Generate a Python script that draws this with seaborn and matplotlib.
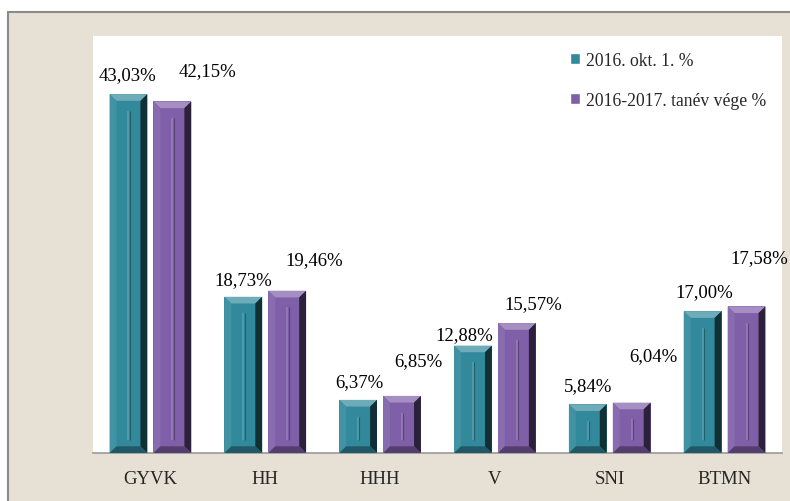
import numpy as np
import pandas as pd
import matplotlib
matplotlib.use("Agg")
import matplotlib.pyplot as plt
from matplotlib.patches import Rectangle, Polygon
import matplotlib.colors as mcolors
import seaborn as sns

# === Daten ===
kategoriak = ["GYVK", "HH", "HHH", "V", "SNI", "BTMN"]
sorozatok = ["2016. okt. 1. %", "2016-2017. tanév vége %"]
okt_2016 = [43.03, 18.73, 6.37, 12.88, 5.84, 17.00]
tanev_vege = [42.15, 19.46, 6.85, 15.57, 6.04, 17.58]

# label placement (x offset from category, y offset from bar top)
cimke_dx = [[-0.196, -0.19, -0.18, -0.265, -0.19, -0.18],
            [0.50, 0.43, 0.33, 0.335, 0.38, 0.30]]
cimke_dy = [[2.3, 2.1, 2.15, 1.27, 2.2, 2.4],
            [3.65, 3.7, 4.2, 2.3, 5.6, 5.8]]

szinek = ["#31899b", "#7f5fa8"]
beige = "#e7e0d5"

df = pd.DataFrame({
    "kat": kategoriak * 2,
    "sorozat": [sorozatok[0]] * 6 + [sorozatok[1]] * 6,
    "ertek": okt_2016 + tanev_vege,
})

sns.set_style("white")
plt.rcParams["font.family"] = ["Liberation Serif", "DejaVu Serif"]

W, H = 790, 502
fig = plt.figure(figsize=(W / 100, H / 100), dpi=100, facecolor="white")
hatter = Rectangle((8 / W, -0.01), 1, (H - 13) / H + 0.01, transform=fig.transFigure,
                   facecolor=beige, edgecolor="#8a8a8a", linewidth=1.5, zorder=-10)
fig.add_artist(hatter)

ax = fig.add_axes([93 / W, (H - 454) / H, (782 - 93) / W, (454 - 37) / H])
ax.set_zorder(1)
ax.set_facecolor("white")

sns.barplot(data=df, x="kat", y="ertek", hue="sorozat", palette=szinek,
            width=0.765, gap=0.14, ax=ax, legend=True, saturation=1)

ax.set_ylim(0, 50)
ax.set_xlim(-0.5, 5.5)
ax.set_yticks([])
ax.set_xlabel("")
ax.set_ylabel("")
for s in ["top", "left", "right"]:
    ax.spines[s].set_visible(False)
ax.spines["bottom"].set_color("#9a9a9a")
ax.spines["bottom"].set_linewidth(1.2)
ax.tick_params(axis="x", which="major", length=0, pad=12, labelsize=13.5)
ax.set_xticks(np.arange(-0.5, 6, 1), minor=True)
ax.tick_params(axis="x", which="minor", length=6, color="#9a9a9a", direction="out")


# bevel effect
def shade(c, f):
    c = np.array(mcolors.to_rgb(c))
    if f > 0:
        return tuple(c + (1 - c) * f)
    return tuple(c * (1 + f))


dx, dy = 0.06, 0.8
for p in list(ax.patches):
    x0, w, h = p.get_x(), p.get_width(), p.get_height()
    if h <= 0:
        continue
    c = p.get_facecolor()
    p.set_edgecolor("none")
    x1, y1 = x0 + w, h
    polys = [
        ([(x0, y1), (x1, y1), (x1 - dx, y1 - dy), (x0 + dx, y1 - dy)], shade(c, 0.3)),
        ([(x0, 0), (x0, y1), (x0 + dx, y1 - dy), (x0 + dx, dy)], shade(c, 0.08)),
        ([(x1, 0), (x1, y1), (x1 - dx, y1 - dy), (x1 - dx, dy)], shade(c, -0.65)),
        ([(x0, 0), (x1, 0), (x1 - dx, dy), (x0 + dx, dy)], shade(c, -0.35)),
    ]
    for pts, col in polys:
        ax.add_patch(Polygon(pts, closed=True, facecolor=col, edgecolor="none", zorder=3))
    xm = x0 + w / 2
    ax.plot([xm, xm], [dy * 2, max(y1 - dy * 2.5, dy * 2.2)], color=shade(c, 0.18),
            lw=1.2, zorder=4, solid_capstyle="butt")
    ax.plot([xm + 0.012, xm + 0.012], [dy * 2, max(y1 - dy * 2.5, dy * 2.2)],
            color=shade(c, -0.3), lw=0.8, zorder=4, solid_capstyle="butt")

# value labels
for si, vals in enumerate([okt_2016, tanev_vege]):
    for i, v in enumerate(vals):
        ax.text(i + cimke_dx[si][i], v + cimke_dy[si][i],
                f"{v:.2f}".replace(".", ",") + "%",
                ha="center", va="center", fontsize=13.5, color="black", clip_on=False)

h_, l_ = ax.get_legend_handles_labels()
ax.legend(h_, l_, loc="upper left", bbox_to_anchor=(554 / W, (H - 37) / H),
          bbox_transform=fig.transFigure, frameon=False, fontsize=12.7,
          handlelength=0.6, handleheight=0.6, handletextpad=0.3, labelspacing=1.29)

fig.savefig("out.png", dpi=100, facecolor=fig.get_facecolor())
